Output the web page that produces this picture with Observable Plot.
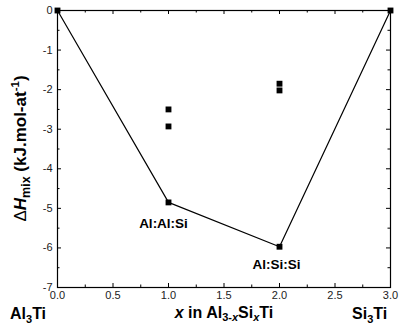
<!DOCTYPE html>
<html>
<head>
<meta charset="utf-8">
<script src="https://cdn.jsdelivr.net/npm/d3@7"></script>
<script src="https://cdn.jsdelivr.net/npm/@observablehq/plot@0.6"></script>
<style>
  html, body { margin: 0; padding: 0; background: #fff; }
  #chart { width: 412px; height: 326px; }
  svg { font-family: "Liberation Sans", Arial, sans-serif; }
</style>
</head>
<body>
<div id="chart"></div>
<script>
// Convex hull (ground-state line) points
const hullX = [0, 1, 2, 3];
const hullY = [0, -4.85, -5.97, 0];
// Other computed configurations
const otherX = [1, 1, 2, 2];
const otherY = [-2.5, -2.93, -1.85, -2.02];
// Point labels
const labelText = ["Al:Al:Si", "Al:Si:Si"];
const labelX = [1, 2];
const labelY = [-4.85, -5.97];
// Ticks
const xMajor = [0, 0.5, 1, 1.5, 2, 2.5, 3];
const xMinor = [0.25, 0.75, 1.25, 1.75, 2.25, 2.75];
const yMajor = [0, -1, -2, -3, -4, -5, -6, -7];
const yMinor = [-0.5, -1.5, -2.5, -3.5, -4.5, -5.5, -6.5];

const W = 412, H = 326;
const mL = 57, mR = 22, mT = 10, mB = 39;
const pw = W - mL - mR, ph = H - mT - mB;
const major = 4, minor = 2.5;

const hull = hullX.map((x, i) => ({x, y: hullY[i]}));
const others = otherX.map((x, i) => ({x, y: otherY[i]}));
const labs = labelText.map((t, i) => ({t, x: labelX[i], y: labelY[i]}));

const chart = Plot.plot({
  width: W, height: H,
  marginLeft: mL, marginRight: mR, marginTop: mT, marginBottom: mB,
  style: {fontFamily: '"Liberation Sans", Arial, sans-serif', background: "#fff", color: "#000"},
  x: {domain: [0, 3]},
  y: {domain: [-7, 0]},
  marks: [
    Plot.axisX(xMajor, {tickSize: 0, tickPadding: 4, fontSize: 11, fill: "#222",
      tickFormat: d => d.toFixed(1), label: null}),
    Plot.axisY(yMajor, {tickSize: 0, tickPadding: 5, fontSize: 11, fill: "#222",
      tickFormat: d => String(d), label: null}),
    // inward ticks, bottom & top
    Plot.tickX(xMajor, {x: d => d, insetTop: ph - major, stroke: "#000"}),
    Plot.tickX(xMinor, {x: d => d, insetTop: ph - minor, stroke: "#000"}),
    Plot.tickX(xMajor, {x: d => d, insetBottom: ph - major, stroke: "#000"}),
    Plot.tickX(xMinor, {x: d => d, insetBottom: ph - minor, stroke: "#000"}),
    // inward ticks, left & right
    Plot.tickY(yMajor, {y: d => d, insetRight: pw - major, stroke: "#000"}),
    Plot.tickY(yMinor, {y: d => d, insetRight: pw - minor, stroke: "#000"}),
    Plot.tickY(yMajor, {y: d => d, insetLeft: pw - major, stroke: "#000"}),
    Plot.tickY(yMinor, {y: d => d, insetLeft: pw - minor, stroke: "#000"}),
    Plot.frame({stroke: "#000", strokeWidth: 1.2}),
    Plot.line(hull, {x: "x", y: "y", stroke: "#000", strokeWidth: 1.2}),
    Plot.dot(hull, {x: "x", y: "y", symbol: "square", r: 3.3, fill: "#000", stroke: "none"}),
    Plot.dot(others, {x: "x", y: "y", symbol: "square", r: 3.3, fill: "#000", stroke: "none"}),
    Plot.text(labs.slice(0, 1), {x: "x", y: "y", text: "t", dx: -5, dy: 21, fontSize: 13.5,
      fontWeight: "bold", fill: "#000"}),
    Plot.text(labs.slice(1), {x: "x", y: "y", text: "t", dx: -3, dy: 18, fontSize: 13.5,
      fontWeight: "bold", fill: "#000"})
  ]
});
document.getElementById("chart").appendChild(chart);

const svg = d3.select(chart);
const g = svg.append("g").attr("font-family", '"Liberation Sans", Arial, sans-serif')
  .attr("font-weight", "bold").attr("fill", "#000").attr("text-anchor", "start");

// Y axis title (rotated)
const yt = g.append("text")
  .attr("transform", `translate(26,${mT + ph / 2}) rotate(-90)`)
  .attr("text-anchor", "middle").attr("font-size", 17);
yt.append("tspan").attr("font-weight", "normal").text("\u0394");
yt.append("tspan").attr("font-style", "italic").text("H");
yt.append("tspan").attr("font-size", 12.5).attr("dy", 4).text("mix");
yt.append("tspan").attr("dy", -4).text(" (kJ.mol-at");
yt.append("tspan").attr("font-size", 11.5).attr("dy", -7).text("-1");
yt.append("tspan").attr("dy", 7).text(")");

// Bottom labels
const b1 = g.append("text").attr("x", 10).attr("y", 319).attr("font-size", 16);
b1.append("tspan").text("Al");
b1.append("tspan").attr("font-size", 11).attr("dy", 4).text("3");
b1.append("tspan").attr("dy", -4).text("Ti");

const b2 = g.append("text").attr("x", 224).attr("y", 318).attr("font-size", 16)
  .attr("text-anchor", "middle");
b2.append("tspan").attr("font-style", "italic").text("x");
b2.append("tspan").text(" in Al");
b2.append("tspan").attr("font-size", 11).attr("dy", 3).text("3-");
b2.append("tspan").attr("font-size", 11).attr("font-style", "italic").text("x");
b2.append("tspan").attr("font-size", 16).attr("dy", -3).text("Si");
b2.append("tspan").attr("font-size", 11).attr("font-style", "italic").attr("dy", 3).text("x");
b2.append("tspan").attr("font-size", 16).attr("dy", -3).text("Ti");

const b3 = g.append("text").attr("x", 352).attr("y", 319).attr("font-size", 16);
b3.append("tspan").text("Si");
b3.append("tspan").attr("font-size", 11).attr("dy", 4).text("3");
b3.append("tspan").attr("dy", -4).text("Ti");
</script>
</body>
</html>
